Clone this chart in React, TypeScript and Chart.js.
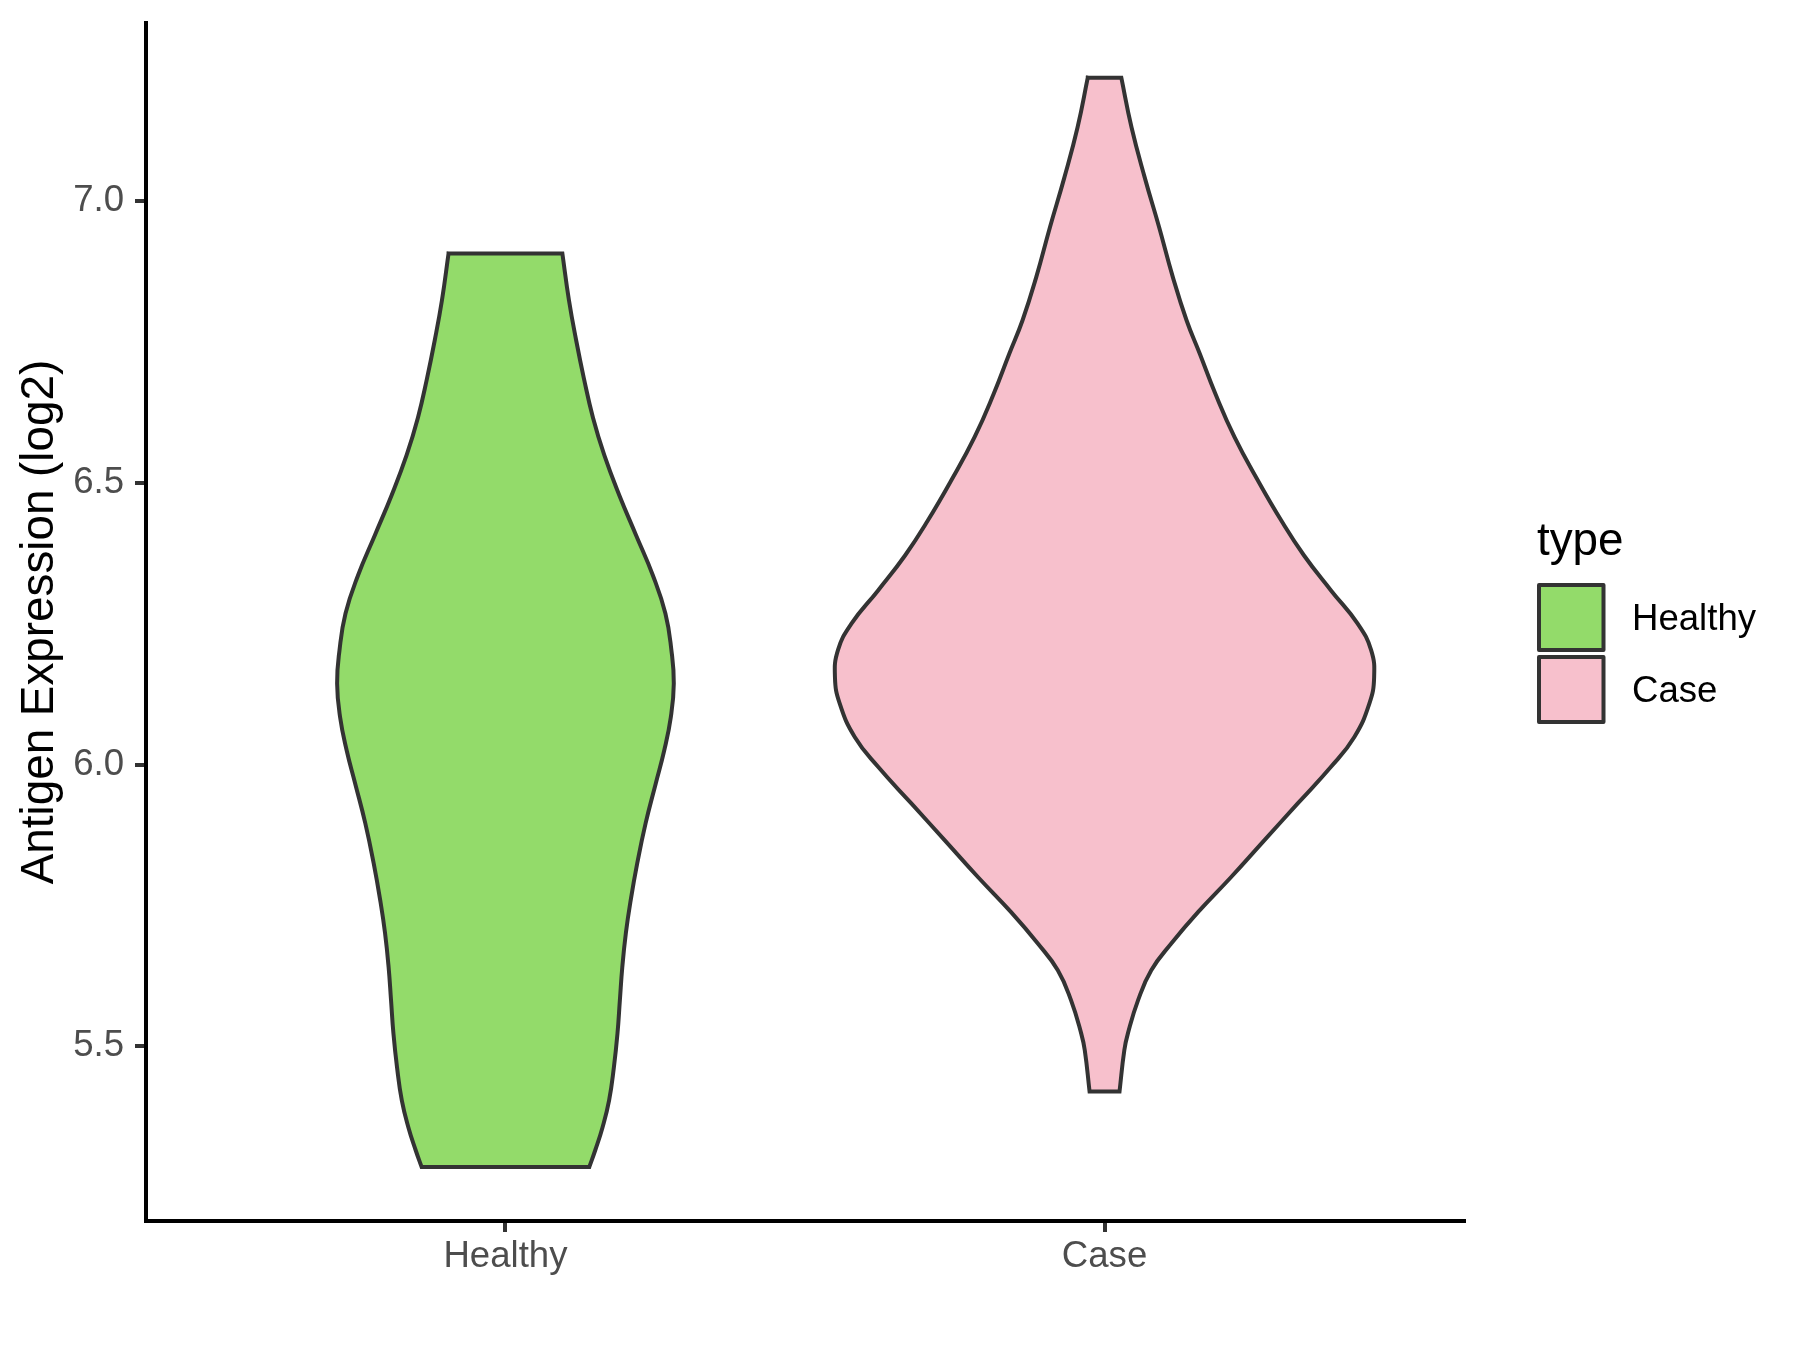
import React, { useEffect, useRef } from "react";
import { Chart, registerables } from "chart.js";

Chart.register(...registerables);

// ---------------- data ----------------
const categories = ["Healthy", "Case"];
const categoryPositions = [1, 2];
const fillColors = ["#93DB6A", "#F7C0CC"];
const outlineColor = "#333333";

const yTickValues = [5.5, 6.0, 6.5, 7.0];
const yAxisTitle = "Antigen Expression (log2)";
const legendTitle = "type";

// Healthy violin outline: expression value (top -> bottom) and half width (x units)
const healthyValues = [
  6.907, 6.824, 6.753, 6.685, 6.616, 6.549, 6.478, 6.407, 6.336, 6.268, 6.203,
  6.144, 6.084, 6.025, 5.967, 5.896, 5.825, 5.759, 5.701, 5.64, 5.582, 5.523,
  5.463, 5.404, 5.356, 5.316, 5.286,
];
const healthyHalfWidths = [
  0.095, 0.106, 0.118, 0.131, 0.146, 0.165, 0.19, 0.218, 0.246, 0.267, 0.277,
  0.281, 0.276, 0.265, 0.251, 0.234, 0.22, 0.209, 0.201, 0.195, 0.191, 0.187,
  0.181, 0.173, 0.162, 0.15, 0.14,
];

// Case violin outline
const caseValues = [
  7.219, 7.131, 7.042, 6.954, 6.865, 6.788, 6.729, 6.658, 6.581, 6.504, 6.433,
  6.371, 6.309, 6.25, 6.203, 6.155, 6.108, 6.049, 5.996, 5.931, 5.866, 5.8,
  5.738, 5.682, 5.635, 5.582, 5.523, 5.493, 5.42,
];
const caseHalfWidths = [
  0.028, 0.045, 0.067, 0.091, 0.114, 0.137, 0.159, 0.185, 0.217, 0.256, 0.295,
  0.333, 0.378, 0.4225, 0.445, 0.45, 0.442, 0.417, 0.378, 0.3225, 0.267, 0.211,
  0.156, 0.111, 0.078, 0.056, 0.039, 0.033, 0.025,
];

const violinValues = [healthyValues, caseValues];
const violinHalfWidths = [healthyHalfWidths, caseHalfWidths];

// ---------------- helpers ----------------
const fontFamily = "'Liberation Sans', Arial, Helvetica, sans-serif";

function violinOutline(center: number, values: number[], halfWidths: number[]) {
  const n = values.length;
  const right = values.map((v, i) => ({ x: center + halfWidths[i], y: v }));
  const left = values.map((v, i) => ({ x: center - halfWidths[i], y: v })).reverse();
  // corners duplicated so the flat top and bottom stay sharp
  return [
    left[n - 1],
    right[0],
    right[0],
    ...right.slice(1, n - 1),
    right[n - 1],
    right[n - 1],
    left[0],
    left[0],
    ...left.slice(1, n - 1),
    left[n - 1],
  ];
}

const legendPlugin = {
  id: "violinLegend",
  afterDraw(chart: any) {
    const { ctx, chartArea } = chart;
    const x0 = chartArea.right + 73;
    const cy = (chartArea.top + chartArea.bottom) / 2;
    ctx.save();
    ctx.textAlign = "left";
    ctx.textBaseline = "alphabetic";
    ctx.fillStyle = "#000000";
    ctx.font = `45.8px ${fontFamily}`;
    ctx.fillText(legendTitle, x0, cy - 67);
    categories.forEach((cat, i) => {
      const top = cy - 37 + i * 72;
      ctx.fillStyle = fillColors[i];
      ctx.fillRect(x0 + 2, top, 64.5, 65);
      ctx.lineWidth = 4;
      ctx.strokeStyle = outlineColor;
      ctx.lineJoin = "round";
      ctx.strokeRect(x0 + 2, top, 64.5, 65);
      ctx.fillStyle = "#000000";
      ctx.font = `36.6px ${fontFamily}`;
      ctx.fillText(cat, x0 + 95, top + 45);
    });
    ctx.restore();
  },
};

export default function App() {
  const canvasRef = useRef<HTMLCanvasElement | null>(null);

  useEffect(() => {
    const canvas = canvasRef.current;
    if (!canvas) return;
    Chart.defaults.font.family = fontFamily;

    const datasets = categories.map((cat, i) => ({
      label: cat,
      data: violinOutline(categoryPositions[i], violinValues[i], violinHalfWidths[i]),
      borderColor: outlineColor,
      backgroundColor: fillColors[i],
      borderWidth: 4,
      borderCapStyle: "square" as const,
      borderJoinStyle: "miter" as const,
      fill: "shape" as const,
      tension: 0.45,
      pointRadius: 0,
      pointHoverRadius: 0,
      showLine: true,
    }));

    const chart = new Chart(canvas, {
      type: "line",
      data: { datasets },
      plugins: [legendPlugin],
      options: {
        indexAxis: "y",
        responsive: false,
        devicePixelRatio: 1,
        animation: false,
        layout: { padding: { left: 0, right: 336, top: 23, bottom: 0 } },
        plugins: {
          legend: { display: false },
          tooltip: { enabled: false },
        },
        scales: {
          x: {
            type: "linear",
            position: "bottom",
            min: 0.4,
            max: 2.6,
            afterFit: (scale: any) => {
              scale.height = 129;
              scale.paddingLeft = 0;
              scale.paddingRight = 0;
            },
            afterBuildTicks: (scale: any) => {
              scale.ticks = categoryPositions.map((v) => ({ value: v }));
            },
            grid: {
              drawOnChartArea: false,
              drawTicks: true,
              tickLength: 11,
              tickWidth: 4,
              tickColor: outlineColor,
              lineWidth: 4,
              color: outlineColor,
            },
            border: { display: true, color: "#000000", width: 4 },
            ticks: {
              autoSkip: false,
              maxRotation: 0,
              padding: 3,
              color: "#4D4D4D",
              font: { size: 36.6, family: fontFamily },
              callback: (v: any) => {
                const idx = categoryPositions.indexOf(Number(v));
                return idx >= 0 ? categories[idx] : "";
              },
            },
          },
          y: {
            type: "linear",
            position: "left",
            min: 5.19,
            max: 7.316,
            afterFit: (scale: any) => {
              scale.width = 146;
              scale.paddingTop = 0;
              scale.paddingBottom = 0;
            },
            afterBuildTicks: (scale: any) => {
              scale.ticks = yTickValues.map((v) => ({ value: v }));
            },
            grid: {
              drawOnChartArea: false,
              drawTicks: true,
              tickLength: 11,
              tickWidth: 4,
              tickColor: outlineColor,
              lineWidth: 4,
              color: outlineColor,
            },
            border: { display: true, color: "#000000", width: 4 },
            ticks: {
              autoSkip: false,
              padding: 11,
              color: "#4D4D4D",
              font: { size: 36.6, family: fontFamily },
              callback: (v: any) => Number(v).toFixed(1),
            },
            title: {
              display: true,
              text: yAxisTitle,
              color: "#000000",
              font: { size: 45.8, family: fontFamily },
              padding: { top: 12.5, bottom: 0 },
            },
          },
        },
      },
    });

    return () => {
      chart.destroy();
    };
  }, []);

  return (
    <div
      style={{
        position: "absolute",
        left: 0,
        top: 0,
        width: 1800,
        height: 1350,
        background: "#ffffff",
      }}
    >
      <canvas ref={canvasRef} width={1800} height={1350} style={{ display: "block" }} />
    </div>
  );
}
